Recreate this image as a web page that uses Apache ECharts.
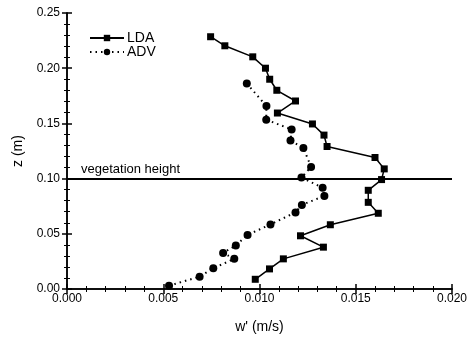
<!DOCTYPE html>
<html>
<head>
<meta charset="utf-8">
<script src="https://cdn.jsdelivr.net/npm/echarts@6/dist/echarts.min.js"></script>
<style>
  html, body { margin: 0; padding: 0; background: #fff; }
  #chart { width: 475px; height: 342px; }
</style>
</head>
<body>
<div id="chart"></div>
<script>
// LDA profile: [w' (m/s), z (m)]
const ldaData = [
  [0.00746, 0.2285], [0.0082, 0.2203], [0.00965, 0.2103], [0.01031, 0.200],
  [0.01053, 0.190], [0.0109, 0.180], [0.01187, 0.1703], [0.01093, 0.1594],
  [0.01275, 0.1495], [0.01335, 0.1394], [0.01351, 0.1291], [0.0160, 0.1191],
  [0.01648, 0.1088], [0.01634, 0.0991], [0.01565, 0.0894], [0.01565, 0.0785],
  [0.01617, 0.0686], [0.01368, 0.0582], [0.01213, 0.0482], [0.01332, 0.0379],
  [0.01124, 0.0273], [0.01052, 0.0182], [0.00978, 0.0088]
];
// ADV profile
const advData = [
  [0.00934, 0.1861], [0.01036, 0.1657], [0.01035, 0.1534], [0.01167, 0.1445],
  [0.01161, 0.1345], [0.01228, 0.1277], [0.01268, 0.1106], [0.01218, 0.1009],
  [0.01328, 0.0918], [0.01337, 0.0843], [0.0122, 0.0762], [0.01187, 0.0694],
  [0.01057, 0.0585], [0.00938, 0.049], [0.00877, 0.0395], [0.00811, 0.0327],
  [0.00869, 0.0273], [0.0076, 0.0188], [0.00689, 0.0112], [0.0053, 0.003]
];
const vegHeight = 0.10;
const xRange = [0, 0.020, 0.005];
const yRange = [0, 0.25, 0.05];

const chart = echarts.init(document.getElementById('chart'));
const font = 'Liberation Sans, Arial, sans-serif';

const axisCommon = {
  axisLine: { show: true, lineStyle: { color: '#000', width: 1.5 } },
  axisTick: { inside: true, length: 5, lineStyle: { color: '#000', width: 1.5 } },
  minorTick: { show: true, splitNumber: 5, length: 3, lineStyle: { color: '#000', width: 1 } },
  splitLine: { show: false },
  axisLabel: { color: '#000', fontSize: 12, fontFamily: font }
};

const option = {
  animation: false,
  backgroundColor: '#fff',
  grid: { left: 67, right: 23, top: 13, bottom: 53 },
  legend: {
    left: 84, top: 26, orient: 'vertical', itemGap: 0, itemWidth: 34, itemHeight: 8,
    textStyle: { color: '#000', fontSize: 14, fontFamily: font, padding: [0, 0, 0, -2] },
    data: ['LDA', 'ADV']
  },
  xAxis: [
    Object.assign({}, axisCommon, {
      type: 'value', min: xRange[0], max: xRange[1], interval: xRange[2],
      name: "w' (m/s)", nameLocation: 'middle', nameGap: 31,
      nameTextStyle: { color: '#000', fontSize: 14, fontFamily: font },
      axisLabel: Object.assign({}, axisCommon.axisLabel, { margin: 4, formatter: v => v.toFixed(3) })
    }),
    Object.assign({}, axisCommon, {
      type: 'value', position: 'top', min: xRange[0], max: xRange[1], interval: xRange[2],
      axisLabel: { show: false }
    })
  ],
  yAxis: [
    Object.assign({}, axisCommon, {
      type: 'value', min: yRange[0], max: yRange[1], interval: yRange[2],
      name: 'z (m)', nameLocation: 'middle', nameGap: 42, nameRotate: 90,
      nameTextStyle: { color: '#000', fontSize: 14, fontFamily: font },
      axisLabel: Object.assign({}, axisCommon.axisLabel, { margin: 7, formatter: v => v.toFixed(2) })
    }),
    Object.assign({}, axisCommon, {
      type: 'value', position: 'right', min: yRange[0], max: yRange[1], interval: yRange[2],
      axisLabel: { show: false }
    })
  ],
  series: [
    {
      name: 'LDA', type: 'line', data: ldaData,
      symbol: 'rect', symbolSize: 7,
      itemStyle: { color: '#000' },
      lineStyle: { color: '#000', width: 1.5, type: 'solid' },
      markLine: {
        silent: true, symbol: 'none',
        lineStyle: { color: '#000', width: 1.8, type: 'solid' },
        label: {
          position: 'insideStartTop', formatter: 'vegetation height',
          color: '#000', fontSize: 13, fontFamily: font, distance: [14, 3]
        },
        data: [{ yAxis: vegHeight }]
      }
    },
    {
      name: 'ADV', type: 'line', data: advData,
      symbol: 'circle', symbolSize: 8,
      itemStyle: { color: '#000' },
      lineStyle: { color: '#000', width: 2, type: [1.5, 4] }
    }
  ]
};
chart.setOption(option);
</script>
</body>
</html>
